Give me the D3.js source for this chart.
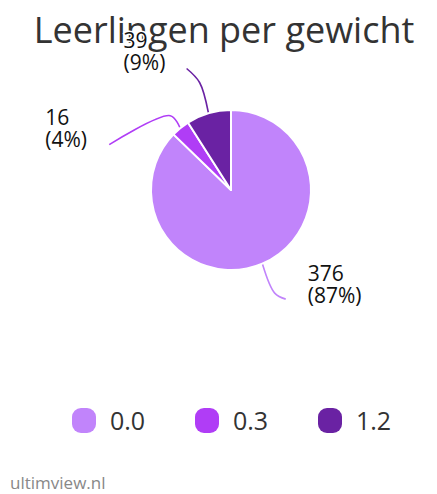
<!DOCTYPE html>
<html>
<head>
<meta charset="utf-8">
<script src="https://cdn.jsdelivr.net/npm/d3@7"></script>
<style>
  body { margin: 0; background: #fff; }
  svg { display: block; }
</style>
</head>
<body>
<div id="chart"></div>
<script>
var categories = ["0.0", "0.3", "1.2"],
	values = [376, 16, 39],
	colors = ["#c184fb", "#b03df6", "#6a22a3"];

var chartTitle = "Leerlingen per gewicht",
	footer = "ultimview.nl";

// leader lines: elbow radius, end offset from elbow, label offset from end
var leaders = [
	{r: 112, dx: 11, dy: 6, lx: 22, ly: -18},
	{r: 96, dx: -61, dy: 29, lx: -64, ly: -20},
	{r: 112, dx: -13, dy: -14, lx: -63, ly: -21}
];

var width = 437,
	height = 494,
	center = {x: 231, y: 190},
	radius = 80,
	fontFamily = "'Open Sans', 'DejaVu Sans', sans-serif";

var svg = d3.select("#chart")
	.append("svg")
	.attr("width", width)
	.attr("height", height);

var total = d3.sum(values);
var data = categories.map((c, i) => ({cat: c, value: values[i], color: colors[i]}));

svg.append("text")
	.attr("x", 224)
	.attr("y", 43)
	.attr("text-anchor", "middle")
	.attr("font-family", fontFamily)
	.attr("font-size", 36)
	.attr("fill", "#333")
	.text(chartTitle);

var pie = d3.pie().sort(null).value(d => d.value);
var arc = d3.arc().innerRadius(0).outerRadius(radius);
var arcs = pie(data);

var g = svg.append("g")
	.attr("transform", "translate(" + center.x + "," + center.y + ")");

g.selectAll("path.slice")
	.data(arcs)
	.enter().append("path")
	.attr("class", "slice")
	.attr("d", arc)
	.attr("fill", d => d.data.color)
	.attr("stroke", "#fff")
	.attr("stroke-width", 2)
	.attr("stroke-linejoin", "round");

function polar(a, r) {
	return [Math.sin(a) * r, -Math.cos(a) * r];
}

var lineGen = d3.line().curve(d3.curveCatmullRom.alpha(0.5));

arcs.forEach((d, i) => {
	var mid = (d.startAngle + d.endAngle) / 2,
		lay = leaders[i],
		p0 = polar(mid, radius + 1),
		p1 = polar(mid, lay.r),
		p2 = [p1[0] + lay.dx, p1[1] + lay.dy];

	g.append("path")
		.attr("d", lineGen([p0, p1, p2]))
		.attr("fill", "none")
		.attr("stroke", d.data.color)
		.attr("stroke-width", 1.6);

	var t = g.append("text")
		.attr("x", p2[0] + lay.lx)
		.attr("y", p2[1] + lay.ly)
		.attr("font-family", fontFamily)
		.attr("font-size", 21)
		.attr("fill", "#111")
		.attr("stroke", "#fff")
		.attr("stroke-width", 3)
		.attr("paint-order", "stroke");
	t.append("tspan").text(d.data.value);
	t.append("tspan")
		.attr("x", p2[0] + lay.lx)
		.attr("dy", 22)
		.text("(" + Math.round(d.data.value / total * 100) + "%)");
});

// legend
var legendX = d3.scalePoint().domain(categories).range([72, 318]);

var legend = svg.selectAll("g.legend")
	.data(data)
	.enter().append("g")
	.attr("class", "legend")
	.attr("transform", d => "translate(" + legendX(d.cat) + ",408)");

legend.append("rect")
	.attr("width", 24)
	.attr("height", 25)
	.attr("rx", 9)
	.attr("fill", d => d.color);

legend.append("text")
	.attr("x", 38)
	.attr("y", 22)
	.attr("font-family", fontFamily)
	.attr("font-size", 25)
	.attr("fill", "#333")
	.text(d => d.cat);

svg.append("text")
	.attr("x", 10)
	.attr("y", 489)
	.attr("font-family", fontFamily)
	.attr("font-size", 17)
	.attr("fill", "#888")
	.text(footer);
</script>
</body>
</html>
